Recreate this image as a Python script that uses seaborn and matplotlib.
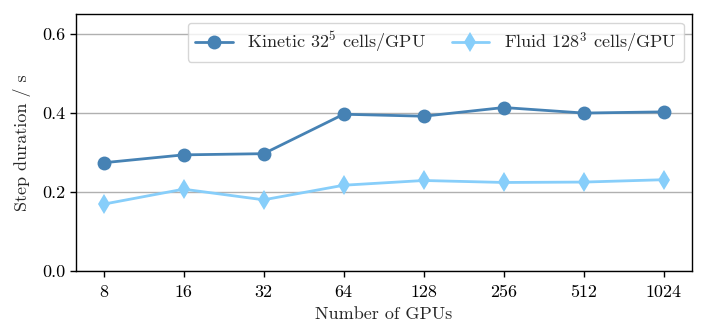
import matplotlib
matplotlib.use("Agg")
import matplotlib.pyplot as plt
import seaborn as sns
import pandas as pd

gpus = ["8", "16", "32", "64", "128", "256", "512", "1024"]
kinetic = [0.274, 0.294, 0.297, 0.397, 0.392, 0.414, 0.400, 0.403]
fluid = [0.169, 0.207, 0.180, 0.217, 0.229, 0.224, 0.225, 0.231]
labels = [r"Kinetic $32^5$ cells/GPU", r"Fluid $128^3$ cells/GPU"]
colors = ["#4682B4", "#87CEFA"]

sns.set_theme(style="ticks")
fs = 13
plt.rcParams.update({
    "font.family": "serif",
    "font.serif": ["cmr10"],
    "mathtext.fontset": "cm",
    "axes.formatter.use_mathtext": True,
    "axes.unicode_minus": False,
    "font.size": fs,
    "axes.labelsize": fs,
    "xtick.labelsize": fs,
    "ytick.labelsize": fs,
    "legend.fontsize": fs,
    "axes.edgecolor": "black",
    "axes.linewidth": 1.0,
    "xtick.color": "black",
    "ytick.color": "black",
})

df = pd.concat([
    pd.DataFrame({"gpus": gpus, "t": kinetic, "series": labels[0]}),
    pd.DataFrame({"gpus": gpus, "t": fluid, "series": labels[1]}),
])

fig = plt.figure(figsize=(7.06, 3.36), dpi=100)
ax = fig.add_axes([0.107, 0.194, 0.873, 0.763])

sns.lineplot(data=df, x="gpus", y="t", hue="series", style="series",
             palette=colors, markers=["o", "d"], dashes=False,
             markersize=10, linewidth=2, markeredgewidth=0, ax=ax, sort=False)

ax.set_xlim(-0.35, 7.35)
ax.set_ylim(0, 0.65)
ax.set_yticks([0.0, 0.2, 0.4, 0.6])
ax.set_yticklabels(["0.0", "0.2", "0.4", "0.6"])
ax.yaxis.grid(True, color="#b0b0b0", linewidth=1)
ax.xaxis.grid(False)
ax.set_axisbelow(True)
ax.tick_params(axis="both", direction="out", length=4, width=1, top=False, right=False)
ax.tick_params(axis="x", pad=6)
ax.set_xlabel("Number of GPUs", labelpad=5)
ax.set_ylabel("Step duration / s", labelpad=8)
for s in ax.spines.values():
    s.set_visible(True)
    s.set_color("black")

leg = ax.legend(loc="upper right", ncol=2, frameon=True, title=None,
                handlelength=2.1, columnspacing=1.4, fancybox=True,
                framealpha=0.8, edgecolor="#cccccc", borderaxespad=0.45)

fig.savefig("out.png", dpi=100)
